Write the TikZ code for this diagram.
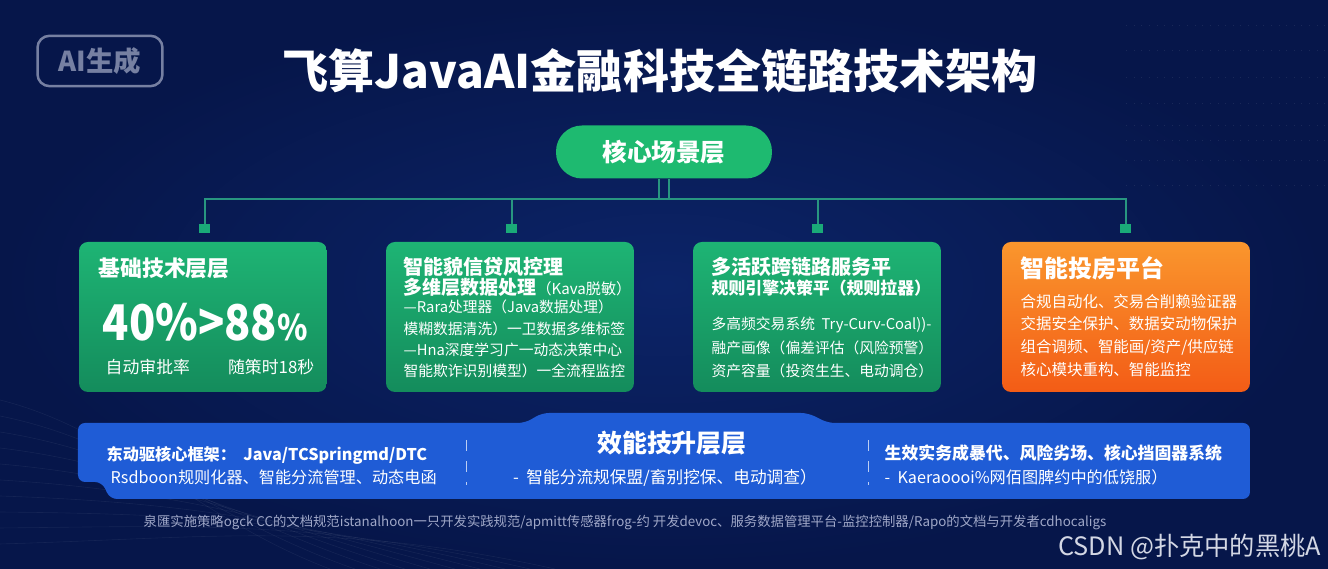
\documentclass[tikz,border=0pt]{standalone}
\usepackage{fontspec}
\setmainfont{Noto Sans CJK SC}
\newcommand{\fsz}[1]{\fontsize{#1}{#1}\selectfont}

\definecolor{bgnavy}{RGB}{12,36,104}
\definecolor{bgdeep}{RGB}{6,22,74}
\definecolor{cardtop}{RGB}{30,180,116}
\definecolor{cardbot}{RGB}{20,140,92}
\definecolor{pillgreen}{RGB}{30,186,112}
\definecolor{orangetop}{RGB}{250,150,45}
\definecolor{orangebot}{RGB}{243,92,22}
\definecolor{barblue}{RGB}{31,92,214}
\definecolor{wire}{RGB}{40,150,128}
\definecolor{tickgreen}{RGB}{26,170,120}
\definecolor{badgegray}{RGB}{118,128,162}
\definecolor{footgray}{RGB}{160,168,200}

\begin{document}
\begin{tikzpicture}[x=0.1mm, y=-0.1mm,
  card/.style={rounded corners=0.9mm, minimum width=24.8mm, minimum height=15mm,
    inner sep=0pt, top color=cardtop, bottom color=cardbot},
  tick/.style={fill=tickgreen, minimum width=1.1mm, minimum height=0.9mm, inner sep=0pt},
  wire/.style={draw=wire, line width=0.15mm},
  txt/.style={text=white, anchor=west, inner sep=0pt},
  divider/.style={draw=white!70!barblue, dashed, line width=0.08mm}]
\useasboundingbox (0,0) rectangle (1328,569);

% === Background ===
\shade[inner color=bgnavy, outer color=bgdeep] (0,0) rectangle (1328,569);
\foreach \i in {0,...,9}{
  \draw[white, opacity=0.06, line width=0.06mm]
    (0,400+\i*16) .. controls (120+\i*10,430+\i*12) and (200+\i*15,520) .. (330+\i*25,569);
}
\foreach \y in {25,50,77,103,125,140,160,185}{
  \draw[white, opacity=0.08, dotted, line width=0.06mm] (1126,\y) -- (1328,\y);
}

% === Title ===
\node[draw=badgegray, line width=0.25mm, rounded corners=1.2mm, minimum width=12.5mm,
  minimum height=4.8mm, text=badgegray, font=\fsz{7.8}\bfseries] (Badge) at (100,61) {AI生成};
\node[text=white, font=\fsz{13.1}\bfseries, inner sep=0pt] (Title) at (660,71)
  {飞算JavaAI金融科技全链路技术架构};

% === Core scene layer ===
\node[fill=pillgreen, rounded corners=2.6mm, minimum width=21.6mm, minimum height=5.3mm,
  text=white, font=\fsz{7}\bfseries] (Core) at (664,152) {核心场景层};

% === Cards ===
\foreach \x [count=\i] in {203,510,817}{
  \node[card] (Card-\i) at (\x,317) {};
}
\node[card, top color=orangetop, bottom color=orangebot] (Card-4) at (1126,317) {};

% === Connections ===
\coordinate (Bus) at (667,199);
\foreach \x [count=\i] in {205,512,818,1126}{
  \node[tick] (Tick-\i) at (\x,229) {};
  \draw[wire] (Tick-\i.north) |- (Bus);
}
\draw[wire] ([xshift=-0.5mm]Core.south) -- ([xshift=-0.5mm]Core.south |- Bus);
\draw[wire] ([xshift=0.5mm]Core.south) -- ([xshift=0.5mm]Core.south |- Bus);

% Card 1
\node[txt, font=\fsz{6.2}\bfseries] (C1-title) at (98,268) {基础技术层层};
\node[txt, font=\fsz{14}\bfseries] (C1-big) at (102,322) {\scalebox{0.88}[1]{40\%>88{\fsz{10}\%}}};
\node[txt, font=\fsz{4.8}] (C1-rate) at (105,367) {自动审批率};
\node[txt, anchor=east, font=\fsz{4.8}] (C1-time) at (315,367) {随策时18秒};

% Card 2
\node[txt, font=\fsz{5.7}\bfseries] (C2-title) at (403,267) {智能貌信贷风控理};
\node[txt, font=\fsz{4.3}] (C2-l1) at (403,287) {{\fsz{5.4}\bfseries 多维层数据处理}（Kava脱敏）};
\node[txt, font=\fsz{4.2}] (C2-l2) at (403,307) {—Rara处理器（Java数据处理）};
\node[txt, font=\fsz{4.2}] (C2-l3) at (403,329) {模糊数据清洗）一卫数据多维标签};
\node[txt, font=\fsz{4.2}] (C2-l4) at (403,350) {—Hna深度学习广一动态决策中心};
\node[txt, font=\fsz{4.2}] (C2-l5) at (403,371) {智能欺诈识别模型）一全流程监控};

% Card 3
\node[txt, font=\fsz{5.7}\bfseries] (C3-title) at (711,267) {多活跃跨链路服务平};
\node[txt, font=\fsz{4.8}\bfseries] (C3-l1) at (711,288) {规则引擎决策平（规则拉器）};
\node[txt, font=\fsz{4.2}] (C3-l2) at (711,325) {多高频交易系统\ \ Try-Curv-Coal))-};
\node[txt, font=\fsz{4.2}] (C3-l3) at (711,348) {融产画像（偏差评估（风险预警）};
\node[txt, font=\fsz{4.2}] (C3-l4) at (711,371) {资产容量（投资生生、电动调仓）};

% Card 4
\node[txt, font=\fsz{6.8}\bfseries] (C4-title) at (1020,268) {智能投房平台};
\node[txt, font=\fsz{4.4}] (C4-l1) at (1020,302) {合规自动化、交易合削赖验证器};
\node[txt, font=\fsz{4.4}] (C4-l2) at (1020,324) {交据安全保护、数据安动物保护};
\node[txt, font=\fsz{4.4}] (C4-l3) at (1020,347) {组合调频、智能画/资产/供应链};
\node[txt, font=\fsz{4.4}] (C4-l4) at (1020,370) {核心模块重构、智能监控};

% === Efficiency layer ===
\fill[barblue, rounded corners=0.7mm] (78,423) -- (525,423) -- (542,413) -- (808,413)
  -- (828,423) -- (1250,423) -- (1250,499) -- (110,499) -- (102,482) -- (78,482) -- cycle;
\draw[divider] (466,440) -- (466,485);
\draw[divider] (868,440) -- (868,485);

\node[txt, font=\fsz{4.6}\bfseries] (B-l1) at (106,455) {东动驱核心框架：\ \ Java/TCSpringmd/DTC};
\node[txt, font=\fsz{4.6}] (B-l2) at (110,477) {Rsdboon规则化器、智能分流管理、动态电函};
\node[text=white, font=\fsz{7.1}\bfseries, inner sep=0pt] (B-title) at (672,443) {效能技升层层};
\node[text=white, font=\fsz{4.75}, inner sep=0pt] (B-l3) at (665,478) {-\ \ 智能分流规保盟/畜别挖保、电动调查）};
\node[txt, font=\fsz{4.8}\bfseries] (B-l4) at (884,453) {生效实务成暴代、风险劣场、核心挡固器系统};
\node[txt, font=\fsz{4.6}] (B-l5) at (884,477) {-\ \ Kaeraoooi\%网佰图脾约中的低饶服）};

% === Footer ===
\node[txt, text=footgray, font=\fsz{3.8}] (Foot) at (143,523)
  {泉匯实施策略ogck CC的文档规范istanalhoon一只开发实践规范/apmitt传感器frog-约 开发devoc、服务数据管理平台-监控控制器/Rapo的文档与开发者cdhocaligs};
\node[txt, anchor=east, text=white!82!bgnavy, font=\fsz{7.2}] (Mark) at (1322,547) {CSDN @扑克中的黑桃A};
\end{tikzpicture}
\end{document}
